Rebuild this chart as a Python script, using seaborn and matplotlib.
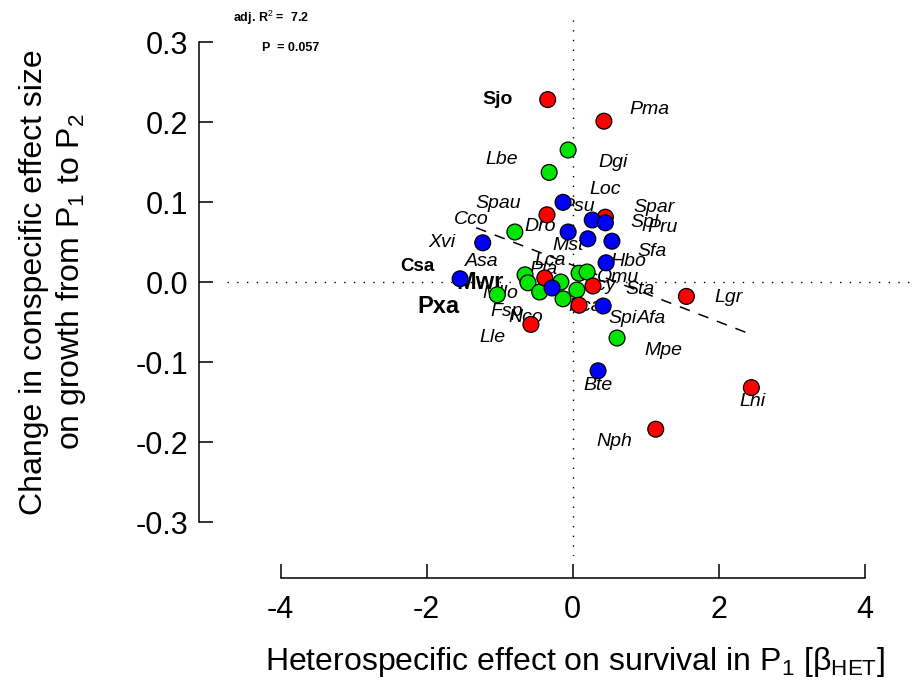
import numpy as np
import pandas as pd
import matplotlib
matplotlib.use("Agg")
import matplotlib.pyplot as plt
import seaborn as sns

# ---------------- data ----------------
red_x = [-0.34, 0.43, -0.35, 0.45, -0.38, 0.28, 0.09, -0.57, 1.56, 2.45, 1.14]
red_y = [0.228, 0.201, 0.084, 0.081, 0.005, -0.005, -0.029, -0.053, -0.018, -0.132, -0.184]

blue_x = [-0.13, -0.06, 0.27, 0.45, 0.21, 0.54, -1.23, 0.46, -1.54, -0.28, 0.42, 0.35]
blue_y = [0.0996, 0.0625, 0.0775, 0.074, 0.054, 0.051, 0.049, 0.024, 0.004, -0.0075, -0.030, -0.111]

green_x = [-0.06, -0.32, -0.79, -0.65, -0.61, -0.45, -0.16, -0.13, 0.06, 0.09, 0.20, -1.03, 0.61]
green_y = [0.165, 0.137, 0.0625, 0.009, -0.001, -0.0125, 0.0, -0.021, -0.010, 0.011, 0.0125, -0.016, -0.070]

# species labels (italic) and their positions
labels = ["Pma", "Lbe", "Dgi", "Loc", "Spau", "Psu", "Spar", "Spl", "Pru", "Cco",
          "Dro", "Xvi", "Mst", "Sfa", "Asa", "Lca", "Pla", "Hbo", "Omu", "Acy",
          "Sta", "Mllo", "Fsp", "Nco", "Pca", "Spi", "Afa", "Lle", "Lgr", "Mpe",
          "Bte", "Lhi", "Nph"]
label_x = [1.06, -0.97, 0.55, 0.45, -1.02, 0.08, 1.12, 0.99, 1.24, -1.38,
           -0.45, -1.79, -0.06, 1.09, -1.24, -0.31, -0.40, 0.76, 0.62, 0.38,
           0.92, -0.99, -0.90, -0.64, 0.17, 0.68, 1.08, -1.09, 2.14, 1.24,
           0.35, 2.46, 0.57]
label_y = [0.215, 0.1525, 0.149, 0.115, 0.0975, 0.094, 0.0925, 0.074, 0.0675, 0.0775,
           0.069, 0.049, 0.046, 0.0375, 0.025, 0.027, 0.016, 0.025, 0.006, -0.005,
           -0.009, -0.014, -0.0375, -0.044, -0.031, -0.046, -0.046, -0.069, -0.019, -0.086,
           -0.129, -0.149, -0.20]

# bold labels with their sizes
bold_labels = ["Sjo", "Csa", "Mwr", "Pxa"]
bold_x = [-1.02, -2.12, -1.27, -1.84]
bold_y = [0.2275, 0.019, -0.001, -0.031]
bold_size = [14, 13.5, 17, 17]

# fitted regression line
fit_intercept = 0.0211
fit_slope = -0.0354
fit_xrange = [-1.32, 2.46]

x_ticks = [-4, -2, 0, 2, 4]
y_ticks = [-0.3, -0.2, -0.1, 0.0, 0.1, 0.2, 0.3]
y_ticklabels = ["-0.3", "-0.2", "-0.1", "0.0", "0.1", "0.2", "0.3"]

# ---------------- plotting ----------------
sns.set_style("white")
plt.rcParams["font.family"] = ["Liberation Sans", "DejaVu Sans"]
plt.rcParams["text.color"] = "black"
plt.rcParams["axes.labelcolor"] = "black"
plt.rcParams["xtick.color"] = "black"
plt.rcParams["ytick.color"] = "black"
plt.rcParams["mathtext.fontset"] = "custom"
plt.rcParams["mathtext.rm"] = "Liberation Sans"
plt.rcParams["mathtext.it"] = "Liberation Sans:italic"
plt.rcParams["mathtext.bf"] = "Liberation Sans:bold"

df = pd.concat([
    pd.DataFrame({"x": green_x, "y": green_y, "group": "green"}),
    pd.DataFrame({"x": red_x, "y": red_y, "group": "red"}),
    pd.DataFrame({"x": blue_x, "y": blue_y, "group": "blue"}),
], ignore_index=True)
palette = {"red": "#FF0000", "green": "#00E600", "blue": "#0000FF"}

fig = plt.figure(figsize=(9.15, 6.86), dpi=100)
ax = fig.add_axes([227 / 915, 1 - 556 / 686, (910 - 227) / 915, (556 - 17) / 686])
ax.set_xlim(-4.733, 4.623)
ax.set_ylim(-0.3425, 0.33125)

# reference lines
ax.axhline(0, color="black", lw=1.0, linestyle=(0, (1, 6)), zorder=1)
ax.axvline(0, color="black", lw=1.0, linestyle=(0, (1, 6)), zorder=1)

# regression line
fx = np.array(fit_xrange)
ax.plot(fx, fit_intercept + fit_slope * fx, color="black", lw=1.1,
        linestyle=(0, (7, 6)), zorder=2)

# labels
for t, lx, ly in zip(labels, label_x, label_y):
    ax.text(lx, ly, t, fontsize=14, fontstyle="italic", ha="center", va="center",
            color="black", zorder=3)
for t, lx, ly, fs in zip(bold_labels, bold_x, bold_y, bold_size):
    ax.text(lx, ly, t, fontsize=fs, fontweight="bold", ha="center", va="center",
            color="black", zorder=3)

sns.scatterplot(data=df, x="x", y="y", hue="group", palette=palette, s=130,
                edgecolor="black", linewidth=0.9, legend=False, ax=ax, zorder=4)

# axes styling (R-like detached axes)
for side in ["top", "right"]:
    ax.spines[side].set_visible(False)
ax.spines["left"].set_position(("outward", 20))
ax.spines["bottom"].set_position(("outward", 16))
ax.spines["left"].set_bounds(-0.3, 0.3)
ax.spines["bottom"].set_bounds(-4, 4)
for side in ["left", "bottom"]:
    ax.spines[side].set_linewidth(1.1)
    ax.spines[side].set_color("black")

ax.set_xticks(x_ticks)
ax.set_xticklabels([str(v) for v in x_ticks])
ax.set_yticks(y_ticks)
ax.set_yticklabels(y_ticklabels)
ax.tick_params(axis="both", direction="in", length=10, width=1.1, labelsize=22,
               colors="black", bottom=True, left=True)
ax.tick_params(axis="y", pad=8)
ax.tick_params(axis="x", pad=12)
ax.set_xlabel("")
ax.set_ylabel("")

fig.text(575 / 915, 1 - 662 / 686,
         "Heterospecific effect on survival in P$_1$ [β$_{\\mathrm{HET}}$]",
         fontsize=23, ha="center", va="center")
fig.text(54 / 915, 1 - 282 / 686,
         "Change in conspecific effect size\non growth from P$_1$ to P$_2$",
         fontsize=23, ha="center", va="center", rotation=90,
         multialignment="center", linespacing=1.2)

fig.text(233 / 915, 1 - 18 / 686, r"adj. R$^2$ =  7.2", fontsize=9,
         fontweight="bold", ha="left", va="center")
fig.text(262 / 915, 1 - 48 / 686, "P  = 0.057", fontsize=9,
         fontweight="bold", ha="left", va="center")

fig.savefig("out.png", dpi=100)
